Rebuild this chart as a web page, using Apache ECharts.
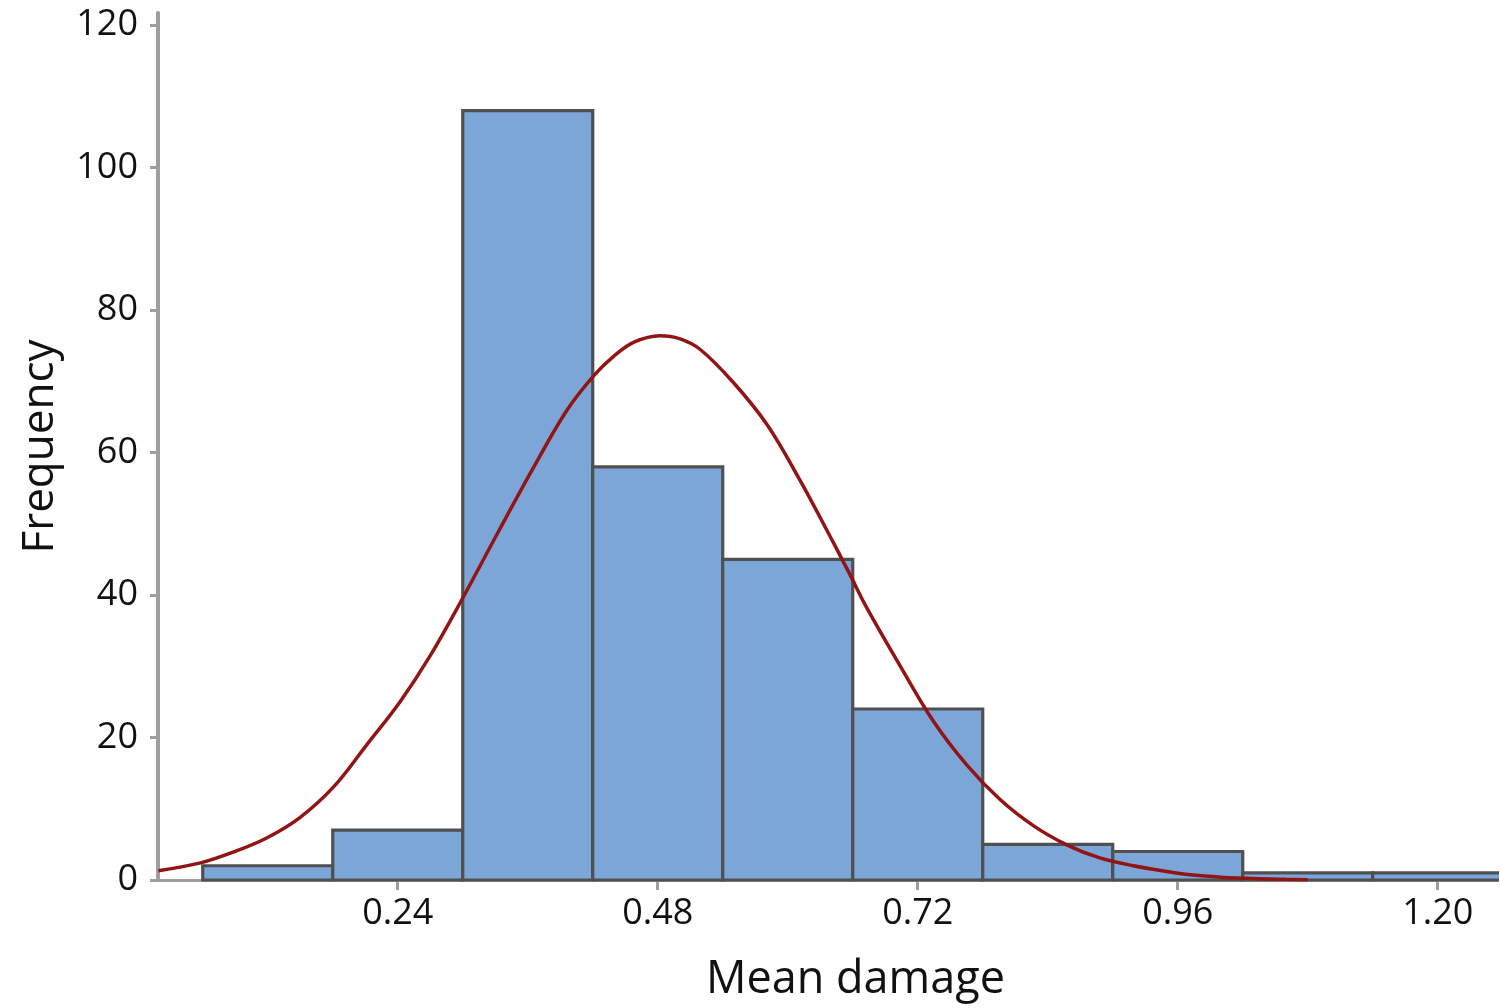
<!DOCTYPE html>
<html>
<head>
<meta charset="utf-8">
<script src="https://cdn.jsdelivr.net/npm/echarts@6/dist/echarts.min.js"></script>
<style>
  html, body { margin: 0; padding: 0; background: #fff; }
  #chart { width: 1500px; height: 1008px; }
</style>
</head>
<body>
<div id="chart"></div>
<script>
// histogram bins (edges) and counts
const binEdges = [0.06, 0.18, 0.30, 0.42, 0.54, 0.66, 0.78, 0.90, 1.02, 1.14, 1.26];
const counts = [2, 7, 108, 58, 45, 24, 5, 4, 1, 1];

// fitted curve
const curveX = [0.019, 0.058, 0.088, 0.119, 0.150, 0.181, 0.211, 0.242, 0.270, 0.299, 0.334, 0.365, 0.396, 0.421, 0.440, 0.458, 0.482, 0.500, 0.519, 0.550, 0.581, 0.611, 0.642, 0.657, 0.673, 0.704, 0.734, 0.765, 0.796, 0.827, 0.858, 0.888, 0.919, 0.950, 0.974, 1.000, 1.030, 1.060, 1.080];
const curveY = [1.3, 2.4, 3.9, 5.9, 8.8, 13.1, 18.9, 25.0, 31.5, 39.3, 49.2, 57.8, 65.9, 70.8, 73.6, 75.5, 76.4, 76.0, 74.5, 69.8, 63.9, 56.2, 47.4, 43.0, 38.2, 30.0, 22.4, 16.2, 11.3, 7.6, 4.9, 3.1, 2.0, 1.2, 0.7, 0.4, 0.2, 0.1, 0.05];

const xTicks = [0.24, 0.48, 0.72, 0.96, 1.20];
const yTicks = [0, 20, 40, 60, 80, 100, 120];

const chart = echarts.init(document.getElementById('chart'));

const barData = counts.map((c, i) => [binEdges[i], binEdges[i + 1], c]);
const lineData = curveX.map((x, i) => [x, curveY[i]]);

const option = {
  animation: false,
  backgroundColor: '#fff',
  textStyle: { fontFamily: 'Open Sans' },
  grid: {
    left: 158,
    right: 3,
    top: 13,
    bottom: 118,
  },
  xAxis: {
    type: 'value',
    min: 0.0187,
    max: 1.2547,
    name: 'Mean damage',
    nameLocation: 'middle',
    nameGap: 78,
    nameTextStyle: { fontSize: 45, color: '#111', fontFamily: 'Open Sans', padding: [0, 0, 0, 56] },
    axisLine: { show: true, lineStyle: { color: '#9e9e9e', width: 3 } },
    axisTick: {
      show: true,
      customValues: xTicks,
      length: 10,
      lineStyle: { color: '#9e9e9e', width: 3 },
    },
    axisLabel: {
      customValues: xTicks,
      fontSize: 36,
      color: '#111',
      margin: 16,
      formatter: (v) => v.toFixed(2),
    },
    splitLine: { show: false },
  },
  yAxis: {
    type: 'value',
    min: 0,
    max: 121.7,
    name: 'Frequency',
    nameLocation: 'middle',
    nameGap: 96,
    nameTextStyle: { fontSize: 44, color: '#111', fontFamily: 'Open Sans' },
    axisLine: { show: true, lineStyle: { color: '#9e9e9e', width: 4 } },
    axisTick: {
      show: true,
      customValues: yTicks,
      length: 8,
      lineStyle: { color: '#9e9e9e', width: 3 },
    },
    axisLabel: {
      customValues: yTicks,
      fontSize: 36,
      color: '#111',
      margin: 20,
    },
    splitLine: { show: false },
  },
  series: [
    {
      type: 'custom',
      clip: true,
      lineStyle: { width: 4 },
      z: 2,
      data: barData,
      encode: { x: [0, 1], y: 2 },
      renderItem: function (params, api) {
        const p0 = api.coord([api.value(0), api.value(2)]);
        const p1 = api.coord([api.value(1), 0]);
        return {
          type: 'rect',
          shape: { x: p0[0], y: p0[1], width: p1[0] - p0[0], height: p1[1] - p0[1] },
          style: { fill: '#7da6d8', stroke: '#505050', lineWidth: 3.2 },
        };
      },
    },
    {
      type: 'line',
      z: 3,
      data: lineData,
      symbol: 'none',
      smooth: 0.35,
      lineStyle: { color: '#921414', width: 3.5 },
    },
  ],
};

chart.setOption(option);
</script>
</body>
</html>
